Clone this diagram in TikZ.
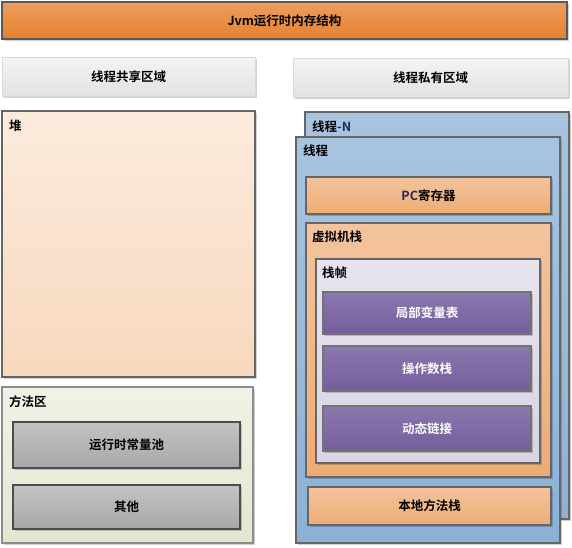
\documentclass[tikz,border=0pt]{standalone}
\usepackage{fontspec}
\setmainfont{Noto Sans CJK SC}[BoldFont={* Bold}]
\usetikzlibrary{shadows}
\definecolor{orT}{HTML}{EE9C5E}
\definecolor{orB}{HTML}{E5822F}
\definecolor{hdT}{HTML}{F4F4F4}
\definecolor{hdB}{HTML}{E2E2E2}
\definecolor{hpT}{HTML}{FBEBDD}
\definecolor{hpB}{HTML}{F8D8BD}
\definecolor{mtT}{HTML}{F0F2E6}
\definecolor{mtB}{HTML}{E3E7CF}
\definecolor{gyT}{HTML}{C3C3C3}
\definecolor{gyB}{HTML}{A8A8A8}
\definecolor{blT}{HTML}{A8C4DF}
\definecolor{blB}{HTML}{8CB1D5}
\definecolor{loT}{HTML}{F3C49D}
\definecolor{loB}{HTML}{EDAC74}
\definecolor{frT}{HTML}{E7E4EF}
\definecolor{frB}{HTML}{D9D3E3}
\definecolor{puT}{HTML}{8B78AE}
\definecolor{puB}{HTML}{735E9C}
\definecolor{edge}{HTML}{666666}
\definecolor{navy}{HTML}{1F2A5C}
\tikzset{
  base/.style={rectangle, inner sep=0pt, outer sep=0pt, line width=1.1pt, draw=edge,
    font=\bfseries\fontsize{12.5}{14}\selectfont,
    drop shadow={shadow xshift=1.5pt, shadow yshift=-1.5pt, fill=black, opacity=0.18}},
  titlebox/.style={base, top color=orT, bottom color=orB, draw=black!65},
  hdrbox/.style={base, top color=hdT, bottom color=hdB, draw=black!15, line width=0.8pt},
  heapbox/.style={base, top color=hpT, bottom color=hpB},
  methbox/.style={base, top color=mtT, bottom color=mtB, draw=black!45},
  graybox/.style={base, top color=gyT, bottom color=gyB, draw=black!70},
  bluebox/.style={base, top color=blT, bottom color=blB, draw=black!60},
  orbox/.style={base, top color=loT, bottom color=loB, draw=black!60},
  framebox/.style={base, top color=frT, bottom color=frB, draw=black!60},
  purbox/.style={base, top color=puT, bottom color=puB, draw=black!55, text=white},
  lbl/.style={anchor=west, inner sep=0pt, font=\bfseries\fontsize{12.5}{14}\selectfont}
}
\begin{document}
\begin{tikzpicture}[x=1pt, y=-1pt]
\useasboundingbox (0,0) rectangle (572,547);
% top
\node[titlebox, minimum width=565pt, minimum height=37pt] (jvm) at (284.5,20.5) {Jvm运行时内存结构};
\node[hdrbox, minimum width=253pt, minimum height=39pt] (shared) at (128.5,76.5) {线程共享区域};
\node[hdrbox, minimum width=275pt, minimum height=39pt] (private) at (430.5,77.5) {线程私有区域};
% left column
\node[heapbox, minimum width=253pt, minimum height=266pt] (heap) at (128.5,244) {};
\node[lbl] (heapl) at (9,126) {堆};
\node[methbox, minimum width=251pt, minimum height=156pt] (method) at (127.5,465) {};
\node[lbl] (methodl) at (9,401.5) {方法区};
\node[graybox, minimum width=227pt, minimum height=46pt] (pool) at (126.5,445) {运行时常量池};
\node[graybox, minimum width=227pt, minimum height=44pt] (other) at (126.5,507) {其他};
% right column
\node[bluebox, minimum width=264pt, minimum height=407pt] (threadN) at (437,315.5) {};
\node[lbl] (threadNl) at (312,126.5) {线程\textcolor{navy}{-N}};
\node[bluebox, minimum width=264pt, minimum height=406pt] (thread) at (428,340) {};
\node[lbl] (threadl) at (303,151) {线程};
\node[orbox, minimum width=245pt, minimum height=37pt] (pc) at (428.5,195.5) {\textcolor{navy}{PC}寄存器};
\node[orbox, minimum width=245pt, minimum height=254pt] (vm) at (428.5,350) {};
\node[lbl] (vml) at (312,237) {虚拟机栈};
\node[framebox, minimum width=224pt, minimum height=204pt] (frame) at (428,361) {};
\node[lbl] (framel) at (322,272.5) {栈帧};
\node[purbox, minimum width=208pt, minimum height=42pt] (locals) at (427,313) {局部变量表};
\node[purbox, minimum width=208pt, minimum height=45pt] (operand) at (427,368.5) {操作数栈};
\node[purbox, minimum width=208pt, minimum height=45pt] (dyn) at (427,428.5) {动态链接};
\node[orbox, minimum width=243pt, minimum height=38pt] (native) at (429.5,506) {本地方法栈};
\end{tikzpicture}
\end{document}
